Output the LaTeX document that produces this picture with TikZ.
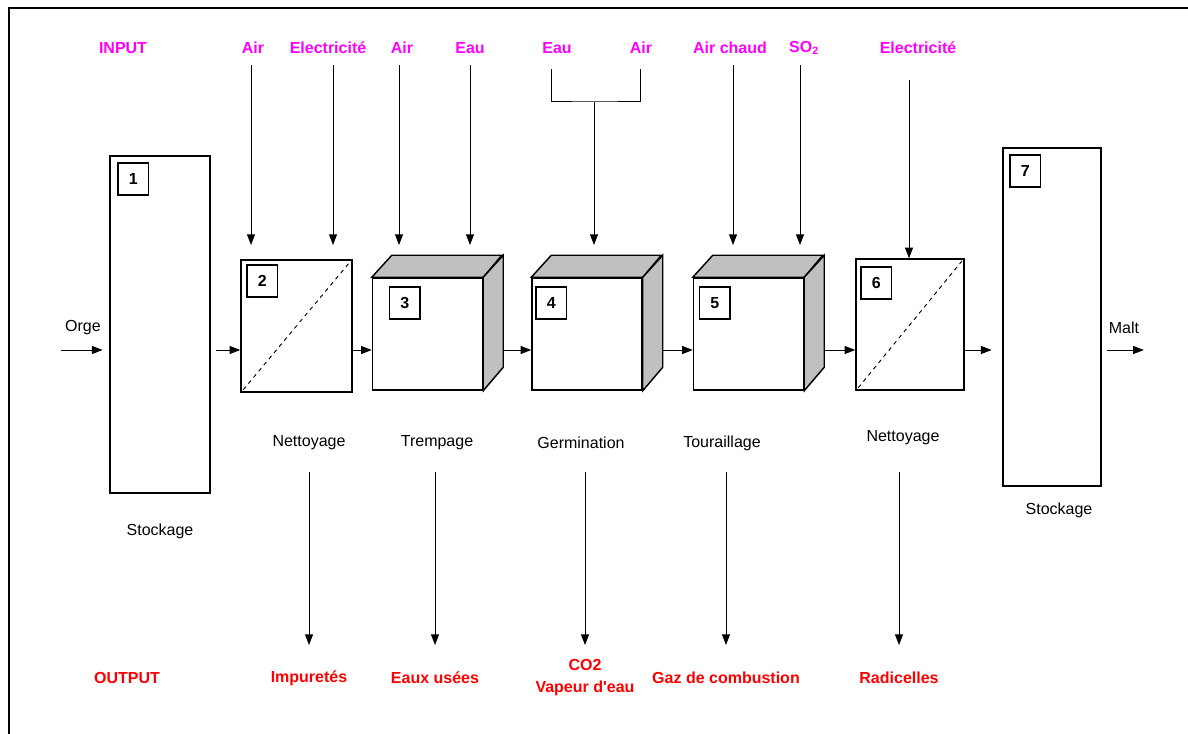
\documentclass[tikz,border=0pt]{standalone}
\usepackage{fontspec}
\setmainfont{Liberation Sans}
\usetikzlibrary{arrows.meta}
\definecolor{inmag}{RGB}{255,0,255}
\definecolor{outred}{RGB}{255,0,0}
\definecolor{cubegray}{RGB}{192,192,192}

\begin{document}
\begin{tikzpicture}[x=0.75pt, y=-0.75pt, font=\fontsize{12}{14}\selectfont,
  flow/.style={-{Triangle[length=8pt,width=6pt]}, line width=0.75pt},
  unit/.style={draw, line width=1.1pt, fill=white, inner sep=0},
  tag/.style={draw, line width=1.1pt, anchor=north west, inner sep=0,
    minimum width=23pt, minimum height=24pt, font=\fontsize{12}{14}\selectfont\bfseries},
  inp/.style={inmag, font=\fontsize{12}{14}\selectfont\bfseries},
  outp/.style={outred, align=center, font=\fontsize{12}{16.5}\selectfont\bfseries}]

\useasboundingbox (0,0) rectangle (1188,734);
\draw[line width=1.5pt] (9,8) rectangle (1230,770);

\coordinate (m) at (0,350);
\coordinate (tin) at (0,245);
\coordinate (tout) at (0,472);
\coordinate (bout) at (0,645);

% storage, cleaning and process units
\node[unit, minimum width=75pt, minimum height=252.75pt] (b1) at (160,324.5) {};
\node[unit, minimum width=83.25pt, minimum height=99pt] (b2) at (296.5,326) {};
\node[unit, minimum width=82.5pt, minimum height=84pt] (b3) at (427.5,334) {};
\node[unit, minimum width=82.5pt, minimum height=84pt] (b4) at (587,334) {};
\node[unit, minimum width=82.5pt, minimum height=84pt] (b5) at (748.5,334) {};
\node[unit, minimum width=81pt, minimum height=98.25pt] (b6) at (910,324.5) {};
\node[unit, minimum width=73.5pt, minimum height=253.5pt] (b7) at (1052,317) {};

\foreach \c in {b3,b4,b5} {
  \draw[line width=1.1pt, fill=cubegray] (\c.north west) -- ++(20,-22) -- ++(110,0) -- (\c.north east) -- cycle;
  \draw[line width=1.1pt, fill=cubegray] (\c.north east) -- ++(20,-22) -- ++(0,112) -- (\c.south east) -- cycle;
}

\draw[dashed, line width=0.7pt] ([shift={(3,-3)}]b2.south west) -- ([shift={(-3,3)}]b2.north east);
\draw[dashed, line width=0.7pt] ([shift={(3,-3)}]b6.south west) -- ([shift={(-3,3)}]b6.north east);

\node[tag] (t1) at ([shift={(8,7)}]b1.north west) {1};
\node[tag] (t2) at ([shift={(6,5)}]b2.north west) {2};
\node[tag] (t3) at ([shift={(17,9)}]b3.north west) {3};
\node[tag] (t4) at ([shift={(4,9)}]b4.north west) {4};
\node[tag] (t5) at ([shift={(6,9)}]b5.north west) {5};
\node[tag] (t6) at ([shift={(5,8)}]b6.north west) {6};
\node[tag] (t7) at ([shift={(7,7)}]b7.north west) {7};

\node (s1) at (160,531) {Stockage};
\node (s2) at (309,443) {Nettoyage};
\node (s3) at (437,443) {Trempage};
\node (s4) at (581,443) {Germination};
\node (s5) at (722,443) {Touraillage};
\node (s6) at (903,438) {Nettoyage};
\node (s7) at (1059,510) {Stockage};

% main line
\node (orge) at (83,328) {Orge};
\node (malt) at (1124,328) {Malt};
\draw[flow, shorten >=5pt] (orge.west |- m) -- (b1.west |- m);
\draw[flow, shorten <=4pt] (b1.east |- m) -- (b2.west |- m);
\draw[flow] (b2.east |- m) -- (b3.west |- m);
\draw[flow] ([xshift=15pt]b3.east |- m) -- (b4.west |- m);
\draw[flow] ([xshift=15pt]b4.east |- m) -- (b5.west |- m);
\draw[flow] ([xshift=15pt]b5.east |- m) -- (b6.west |- m);
\draw[flow, shorten >=8pt] (b6.east |- m) -- (b7.west |- m);
\draw[flow, shorten <=4pt] (b7.east |- m) -- (malt.east |- m);

% inputs
\node[inp] (in) at (123,48) {INPUT};
\node[inp] (i2a) at (253,48) {Air};
\node[inp] (i2b) at (328,48) {Electricité};
\node[inp] (i3a) at (402,48) {Air};
\node[inp] (i3b) at (470,48) {Eau};
\node[inp] (i4a) at (557,48) {Eau};
\node[inp] (i4b) at (641,48) {Air};
\node[inp] (i5a) at (730,48) {Air chaud};
\node[inp] (i5b) at (804,48) {SO\textsubscript{2}};
\node[inp] (i6) at (918,48) {Electricité};

\foreach \x [count=\k] in {251,333,399,470,733,800} {
  \coordinate (f\k) at (\x,65);
  \draw[flow] (f\k) -- (f\k |- tin);
}
\coordinate (ea) at (551,69);
\coordinate (ai) at (640,69);
\coordinate (j) at (594,102);
\draw[line width=0.75pt] (ea) |- (j) -| (ai);
\draw[flow] (j) -- (j |- tin);
\coordinate (f7) at (909,80);
\draw[flow] (f7) -- (f7 |- b6.north);

% outputs
\node[outp] (out) at (127,678) {OUTPUT};
\node[outp] (o2) at (309,678) {Impuretés};
\node[outp] (o3) at (435,678) {Eaux usées};
\node[outp] (o4) at (585,678) {CO2\\Vapeur d\textquotesingle eau};
\node[outp] (o5) at (726,678) {Gaz de combustion};
\node[outp] (o6) at (899,678) {Radicelles};

\foreach \o in {o2,o3,o4,o5,o6}
  \draw[flow] (\o |- tout) -- (\o |- bout);

\end{tikzpicture}
\end{document}
